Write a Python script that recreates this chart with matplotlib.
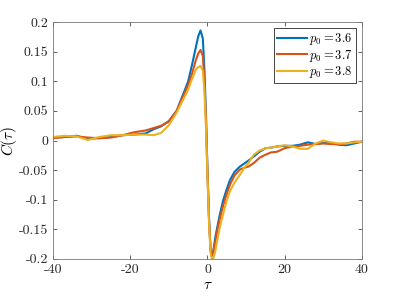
import matplotlib
matplotlib.use("Agg")
import matplotlib.pyplot as plt

plt.rcParams['font.family'] = 'serif'
plt.rcParams['font.serif'] = ['cmr10']
plt.rcParams['mathtext.fontset'] = 'cm'
plt.rcParams['axes.formatter.use_mathtext'] = True

# lag values shared by all three curves
tau = [-40, -37, -34, -31, -28, -25, -22, -19, -16, -14, -12, -10, -8, -6, -5,
       -4, -3, -2.4, -1.8, -1.2, -0.8, -0.4, 0, 0.4, 0.8, 1.1, 1.5, 2.0, 2.4,
       3.2, 4.1, 5, 5.8, 7, 8.4, 9.5, 10.6, 12, 13.5, 15, 16.5, 18, 20, 22,
       24, 26, 28, 30, 32, 34, 36, 38, 40]

c_36 = [0.005, 0.006, 0.008, 0.003, 0.004, 0.006, 0.009, 0.010, 0.012, 0.019,
        0.024, 0.033, 0.050, 0.083, 0.100, 0.128, 0.158, 0.176, 0.186, 0.172,
        0.120, 0.045, -0.050, -0.130, -0.185, -0.195, -0.188, -0.165, -0.151,
        -0.125, -0.100, -0.082, -0.067, -0.053, -0.044, -0.039, -0.034, -0.027,
        -0.019, -0.013, -0.012, -0.010, -0.009, -0.009, -0.007, -0.003, -0.006,
        -0.004, -0.005, -0.007, -0.008, -0.005, -0.002]

c_37 = [0.004, 0.006, 0.007, 0.005, 0.004, 0.005, 0.009, 0.014, 0.017, 0.021,
        0.025, 0.032, 0.050, 0.079, 0.094, 0.113, 0.136, 0.147, 0.153, 0.143,
        0.100, 0.035, -0.055, -0.135, -0.185, -0.193, -0.188, -0.172, -0.157,
        -0.132, -0.109, -0.090, -0.075, -0.059, -0.049, -0.046, -0.044, -0.038,
        -0.029, -0.024, -0.020, -0.019, -0.013, -0.010, -0.009, -0.007, -0.006,
        -0.005, -0.006, -0.006, -0.005, -0.002, -0.002]

c_38 = [0.006, 0.008, 0.007, 0.001, 0.006, 0.009, 0.009, 0.010, 0.010, 0.009,
        0.013, 0.026, 0.047, 0.073, 0.086, 0.104, 0.120, 0.124, 0.126, 0.118,
        0.085, 0.025, -0.060, -0.140, -0.190, -0.199, -0.199, -0.188, -0.173,
        -0.147, -0.123, -0.101, -0.086, -0.071, -0.058, -0.046, -0.038, -0.024,
        -0.017, -0.013, -0.012, -0.010, -0.008, -0.010, -0.014, -0.014, -0.005,
        0.000, -0.003, -0.005, -0.005, -0.003, -0.002]

labels = [r'$p_0 = 3.6$', r'$p_0 = 3.7$', r'$p_0 = 3.8$']
colors = ['#0072BD', '#D95319', '#EDB120']

xticks = [-40, -20, 0, 20, 40]
yticks = [-0.2, -0.15, -0.1, -0.05, 0, 0.05, 0.1, 0.15, 0.2]
ytick_labels = ['-0.2', '-0.15', '-0.1', '-0.05', '0', '0.05', '0.1', '0.15', '0.2']

fig = plt.figure(figsize=(3.99, 2.99), dpi=100)
ax = fig.add_axes([0.133, 0.134, 0.774, 0.792])

for c, lab, col in zip([c_36, c_37, c_38], labels, colors):
    ax.plot(tau, c, color=col, lw=1.5, label=lab)

ax.set_xlim(-40, 40)
ax.set_ylim(-0.2, 0.2)
ax.set_xticks(xticks)
ax.set_xticklabels([str(t) for t in xticks])
ax.set_yticks(yticks)
ax.set_yticklabels(ytick_labels)
ax.tick_params(direction='in', length=3, width=0.5, colors='#262626',
               labelsize=10, top=True, right=True)
for s in ax.spines.values():
    s.set_linewidth(0.6)
    s.set_color('#777777')

ax.set_xlabel(r'$\tau$', fontsize=11, labelpad=2)
ax.set_ylabel(r'$C(\tau)$', fontsize=11, labelpad=0)

leg = ax.legend(loc='upper right', fontsize=9, fancybox=False,
                edgecolor='#262626', framealpha=1, handlelength=2.4,
                borderpad=0.2, labelspacing=0.05, handletextpad=0.2,
                borderaxespad=0.5)
leg.get_frame().set_linewidth(0.6)

fig.savefig('out.png', dpi=100)
